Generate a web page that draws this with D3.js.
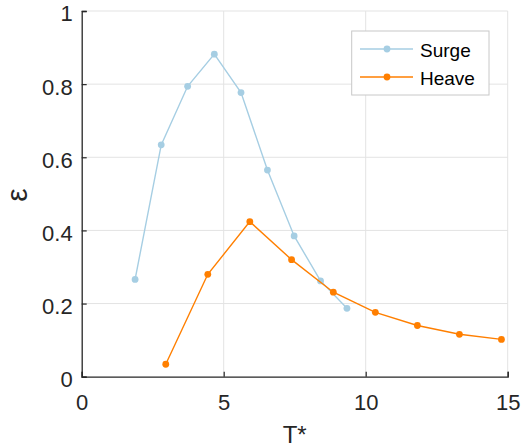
<!DOCTYPE html>
<html>
<head>
<meta charset="utf-8">
<script src="https://cdn.jsdelivr.net/npm/d3@7"></script>
<style>
  html, body { margin: 0; padding: 0; background: #fff; }
  svg { display: block; font-family: "Liberation Sans", Arial, Helvetica, sans-serif; }
</style>
</head>
<body>
<svg id="chart" width="521" height="448"></svg>
<script>
// Period values T* and efficiency ε per motion mode
const surgeT = [1.88, 2.80, 3.73, 4.67, 5.61, 6.54, 7.48, 8.41, 9.34];
const surgeE = [0.266, 0.634, 0.794, 0.882, 0.777, 0.565, 0.385, 0.262, 0.187];
const heaveT = [2.96, 4.44, 5.92, 7.39, 8.86, 10.34, 11.82, 13.30, 14.78];
const heaveE = [0.034, 0.280, 0.424, 0.320, 0.231, 0.176, 0.140, 0.116, 0.102];

const xTicks = [0, 5, 10, 15];
const yTicks = [0, 0.2, 0.4, 0.6, 0.8, 1];
const yTickLabels = ["0", "0.2", "0.4", "0.6", "0.8", "1"];

const series = [
  { name: "Surge", color: "#a6cee3", t: surgeT, e: surgeE },
  { name: "Heave", color: "#ff7f00", t: heaveT, e: heaveE }
];

const svg = d3.select("#chart");
const margin = { left: 81.7, right: 521 - 507.7, top: 11, bottom: 448 - 376.7 };
const W = 521 - margin.left - margin.right;
const H = 448 - margin.top - margin.bottom;

const x = d3.scaleLinear().domain([0, 15]).range([0, W]);
const y = d3.scaleLinear().domain([0, 1]).range([H, 0]);

const g = svg.append("g").attr("transform", `translate(${margin.left},${margin.top})`);

// grid
g.append("g").selectAll("line").data(xTicks.slice(1)).join("line")
  .attr("x1", d => x(d)).attr("x2", d => x(d)).attr("y1", 0).attr("y2", H)
  .attr("stroke", "#e3e3e3").attr("stroke-width", 1);
g.append("g").selectAll("line").data(yTicks.slice(1)).join("line")
  .attr("x1", 0).attr("x2", W).attr("y1", d => y(d)).attr("y2", d => y(d))
  .attr("stroke", "#e3e3e3").attr("stroke-width", 1);

// axes with inward ticks
const xAxis = d3.axisBottom(x).tickValues(xTicks).tickSize(-5).tickPadding(14).tickFormat(d3.format("d"));
const yAxis = d3.axisLeft(y).tickValues(yTicks).tickSize(-5).tickPadding(9)
  .tickFormat((d, i) => yTickLabels[i]);

const gx = g.append("g").attr("transform", `translate(0,${H})`).call(xAxis);
const gy = g.append("g").call(yAxis);
[gx, gy].forEach(a => {
  a.select(".domain").attr("stroke", "#262626").attr("stroke-width", 1.3);
  a.selectAll(".tick line").attr("stroke", "#262626").attr("stroke-width", 1.2);
  a.selectAll(".tick text").attr("fill", "#262626").attr("font-size", 22)
    .attr("font-family", "'Liberation Sans', Arial, sans-serif");
});
gx.selectAll(".tick text").attr("dy", "0.71em").attr("y", 18);
gy.selectAll(".tick text").attr("dy", "0.45em");

// series lines and markers
const line = d3.line().x(d => x(d[0])).y(d => y(d[1]));
series.forEach(s => {
  const pts = s.t.map((t, i) => [t, s.e[i]]);
  g.append("path").datum(pts).attr("d", line)
    .attr("fill", "none").attr("stroke", s.color).attr("stroke-width", 1.4);
  g.append("g").selectAll("circle").data(pts).join("circle")
    .attr("cx", d => x(d[0])).attr("cy", d => y(d[1])).attr("r", 3.4)
    .attr("fill", s.color);
});

// axis labels
svg.append("text").attr("x", margin.left + W / 2).attr("y", 443)
  .attr("text-anchor", "middle").attr("font-size", 24).attr("fill", "#262626").text("T*");
svg.append("text").attr("transform", "translate(27,195) rotate(-90)")
  .attr("text-anchor", "middle").attr("font-size", 30).attr("fill", "#262626").text("ε");

// legend
const lg = svg.append("g");
lg.append("rect").attr("x", 351.7).attr("y", 31).attr("width", 137.3).attr("height", 64)
  .attr("fill", "#fff").attr("stroke", "#c8c8c8").attr("stroke-width", 1);
series.forEach((s, i) => {
  const cy = 49 + i * 28;
  lg.append("line").attr("x1", 360).attr("x2", 413).attr("y1", cy).attr("y2", cy)
    .attr("stroke", s.color).attr("stroke-width", 1.4);
  lg.append("circle").attr("cx", 387).attr("cy", cy).attr("r", 3.4).attr("fill", s.color);
  lg.append("text").attr("x", 420).attr("y", cy + 7.5).attr("font-size", 19)
    .attr("fill", "#000").text(s.name);
});
</script>
</body>
</html>
